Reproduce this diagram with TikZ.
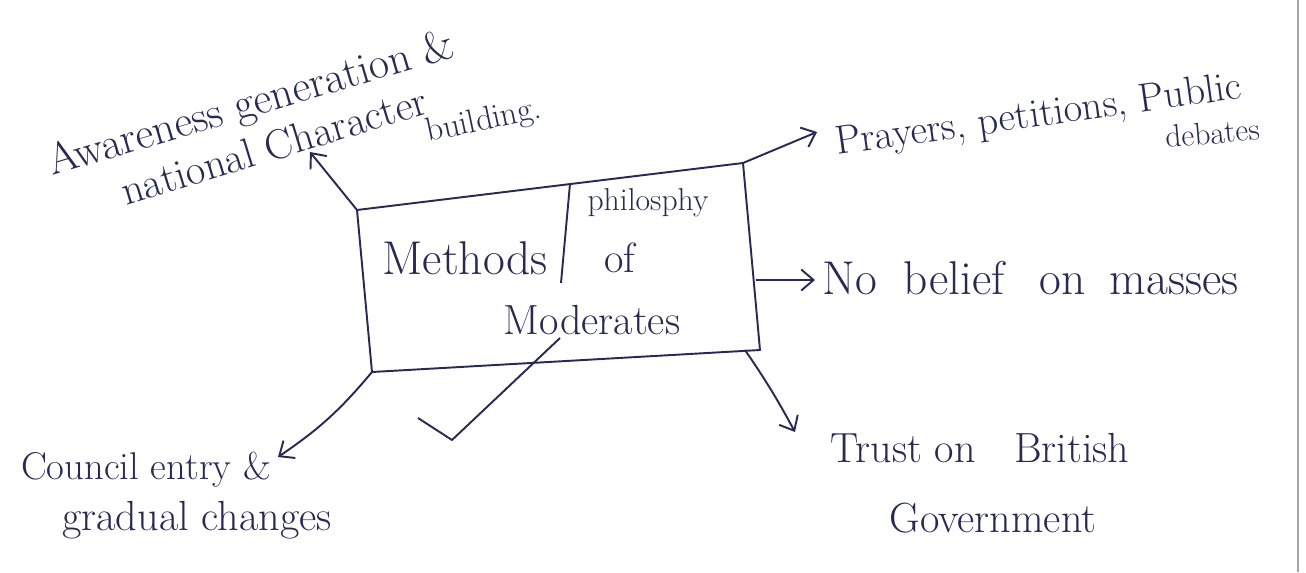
\documentclass[tikz,border=0pt]{standalone}
\usetikzlibrary{arrows.meta}
\definecolor{ink}{RGB}{40,42,82}
\begin{document}
\begin{tikzpicture}[
      x=0.02cm, y=-0.02cm,
      lbl/.style={font=\fontsize{24}{27}\selectfont, text=ink, inner sep=0pt},
      bigl/.style={lbl, font=\fontsize{27}{30}\selectfont},
      smalll/.style={lbl, font=\fontsize{18}{21}\selectfont},
      slant/.style={lbl, font=\fontsize{25}{28}\selectfont, anchor=base west},
      boxline/.style={draw=ink, line width=1.1pt, line join=round},
      arr/.style={->, >={Straight Barb[length=7pt, width=12pt]}, draw=ink, line width=1.1pt},
      tick/.style={draw=ink, line width=1.1pt, line join=round},
      edge/.style={draw=gray!70, line width=1.6pt}
    ]
    \useasboundingbox (0,0) rectangle (1306,572);

    % Box corners and arrow ends.
    \coordinate (tl) at (357,210);
    \coordinate (tr) at (743,163);
    \coordinate (br) at (760,350);
    \coordinate (bl) at (372,372);
    \coordinate (rm) at (756,280);
    \coordinate (dtop) at (570,184);
    \coordinate (dbot) at (561,283);

    \coordinate (awtip) at (310,152);
    \coordinate (prtip) at (817,132);
    \coordinate (matip) at (815,280);
    \coordinate (trtip) at (795,432);
    \coordinate (cotip) at (278,457);

    % The central box.
    \draw[boxline] (tl) -- (tr) -- (br) -- (bl) -- cycle;
    \draw[boxline] (dtop) -- (dbot);

    \node[bigl]   (methods)   at (465,258) {Methods};
    \node[smalll] (philo)     at (648,203) {philosphy};
    \node[lbl]    (of)        at (620,258) {of};
    \node[lbl]    (moderates) at (592,320) {Moderates};

    % Labels around the box.
    \node[slant, rotate=16.5] (aware)  at (52,176)  {Awareness generation \&};
    \node[slant, rotate=17, font=\fontsize{24}{27}\selectfont] (nation) at (126,206) {national Character};
    \node[slant, rotate=12, font=\fontsize{19}{21}\selectfont] (build) at (428,142) {building.};

    \node[slant, rotate=8, font=\fontsize{23}{26}\selectfont] (prayers) at (837,155) {Prayers, petitions, Public};
    \node[slant, rotate=5, font=\fontsize{18}{21}\selectfont] (debates) at (1166,148) {debates};

    \node[lbl, font=\fontsize{27}{29}\selectfont, anchor=west] (masses) at (822,278)
      {No\hspace{0.25cm} belief\hspace{0.7cm}on\hspace{0.2cm} masses};

    \node[lbl] (trust) at (980,448) {Trust on \ \ British};
    \node[lbl] (govt)  at (993,518) {Government};

    \node[lbl, font=\fontsize{22}{25}\selectfont] (council) at (146,470) {Council entry \&};
    \node[lbl] (gradual) at (197,520) {gradual changes};

    % Arrows out of the box.
    \draw[arr] (tl) -- (awtip);
    \draw[arr] (tr) -- (prtip);
    \draw[arr] (rm) -- (matip);
    \draw[arr] (745,350) to[bend left=3] (trtip);
    \draw[arr] (bl) to[bend left=8] (cotip);

    % Tick mark under the box.
    \draw[tick] (418,418) -- (452,440) -- (560,338);

    % Page edge.
    \draw[edge] (1298,0) -- (1298,572);
  \end{tikzpicture}
\end{document}
